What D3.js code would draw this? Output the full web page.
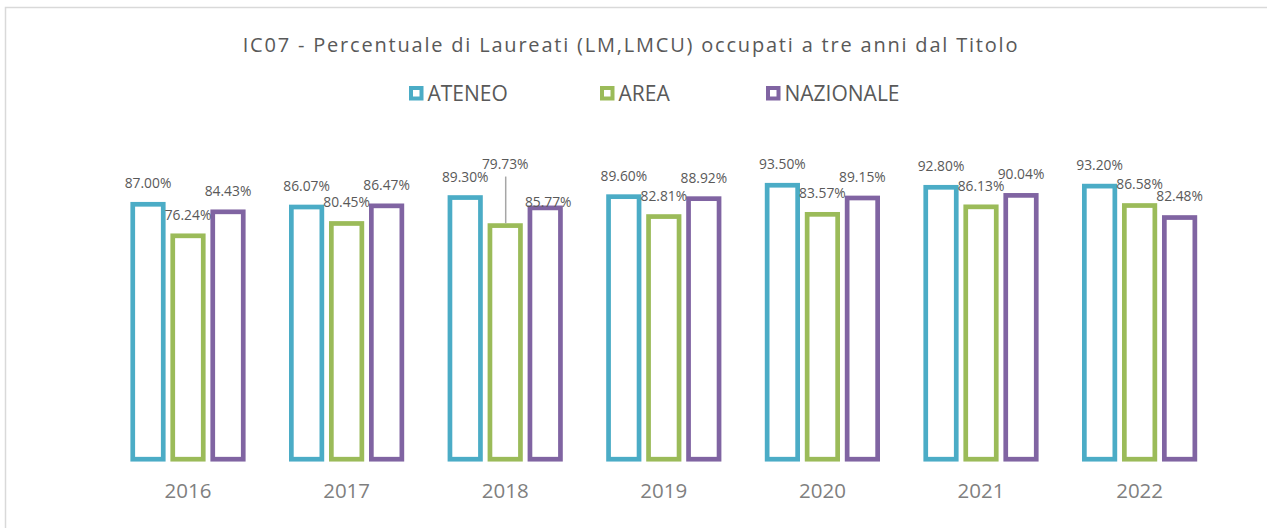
<!DOCTYPE html>
<html>
<head>
<meta charset="utf-8">
<script src="https://cdn.jsdelivr.net/npm/d3@7/dist/d3.min.js"></script>
<style>
  html, body { margin: 0; padding: 0; background: #ffffff; }
  svg { display: block; }
  text { font-family: "Open Sans", "Noto Sans", sans-serif; }
</style>
</head>
<body>
<svg id="chart" width="1267" height="528"></svg>
<script>
// Anni accademici (categorie)
const years = ["2016", "2017", "2018", "2019", "2020", "2021", "2022"];
// Serie
const seriesNames = ["ATENEO", "AREA", "NAZIONALE"];
const ateneo    = [87.00, 86.07, 89.30, 89.60, 93.50, 92.80, 93.20];
const area      = [76.24, 80.45, 79.73, 82.81, 83.57, 86.13, 86.58];
const nazionale = [84.43, 86.47, 85.77, 88.92, 89.15, 90.04, 82.48];
const seriesColors = ["#4BACC6", "#9BBB59", "#8064A2"];
const titleText = "IC07 - Percentuale di Laureati (LM,LMCU) occupati a tre anni dal Titolo";

const seriesValues = [ateneo, area, nazionale];
const rows = [];
years.forEach((yr, i) => {
  seriesNames.forEach((s, j) => {
    rows.push({ year: yr, series: s, value: seriesValues[j][i], color: seriesColors[j] });
  });
});

// Etichette spostate manualmente (come nel foglio di calcolo originale)
const labelNudge = {
  "AREA|2018": { dx: 0, dy: -41, leader: true },
  "NAZIONALE|2018": { dx: 3, dy: 15 }
};

const svg = d3.select("#chart");
const W = 1267, H = 528;

// Cornice dell'area grafico
svg.append("rect")
  .attr("x", 5.5).attr("y", 7.5)
  .attr("width", W + 20).attr("height", H + 20)
  .attr("fill", "#ffffff")
  .attr("stroke", "#d9d9d9")
  .attr("stroke-width", 1.5);

// Scale
const x0 = d3.scaleBand().domain(years).range([108.7, 1218.9]).paddingInner(0).paddingOuter(0);
const x1 = d3.scaleBand().domain(seriesNames).range([-60, 60]).paddingInner(0.2375).paddingOuter(0.2375 / 2);
const y = d3.scaleLinear().domain([0, 100]).range([459.2, 166.2]);

const strokeW = 4.7;

// Titolo
svg.append("text")
  .attr("x", 631).attr("y", 52)
  .attr("text-anchor", "middle")
  .attr("font-size", 20)
  .attr("letter-spacing", 1.8)
  .attr("fill", "#595959")
  .text(titleText);

// Legenda
const legendX = [409, 600, 766];
const legend = svg.append("g");
seriesNames.forEach((s, j) => {
  const g = legend.append("g").attr("transform", `translate(${legendX[j]},86)`);
  g.append("rect")
    .attr("x", 2).attr("y", 2).attr("width", 10.5).attr("height", 10.5)
    .attr("fill", "#ffffff")
    .attr("stroke", seriesColors[j]).attr("stroke-width", 4);
  g.append("text")
    .attr("x", 18.5).attr("y", 14.5)
    .attr("font-size", 21)
    .attr("fill", "#595959")
    .text(s);
});

// Barre (solo contorno)
const bars = svg.append("g");
bars.selectAll("rect")
  .data(rows)
  .join("rect")
  .attr("x", d => x0(d.year) + x0.bandwidth() / 2 + x1(d.series))
  .attr("y", d => y(d.value))
  .attr("width", x1.bandwidth())
  .attr("height", d => y(0) - y(d.value))
  .attr("fill", "#ffffff")
  .attr("stroke", d => d.color)
  .attr("stroke-width", strokeW);

// Etichette dei valori
const fmt = v => v.toFixed(2) + "%";
const labels = svg.append("g");
rows.forEach(d => {
  const cx = x0(d.year) + x0.bandwidth() / 2 + x1(d.series) + x1.bandwidth() / 2;
  const nudge = labelNudge[d.series + "|" + d.year] || { dx: 0, dy: 0 };
  const ly = y(d.value) - strokeW / 2 - 13.7 + nudge.dy;
  if (nudge.leader) {
    labels.append("line")
      .attr("x1", cx + 0.5).attr("x2", cx + 0.5)
      .attr("y1", ly + 8).attr("y2", y(d.value) - strokeW / 2)
      .attr("stroke", "#a6a6a6").attr("stroke-width", 1.5);
  }
  labels.append("text")
    .attr("x", cx + nudge.dx).attr("y", ly)
    .attr("text-anchor", "middle")
    .attr("font-size", 13.8)
    .attr("fill", "#595959")
    .text(fmt(d.value));
});

// Asse delle categorie (senza linea)
const xAxis = svg.append("g")
  .attr("transform", `translate(0,${y(0)})`)
  .call(d3.axisBottom(x0).tickSize(0).tickPadding(0));
xAxis.select(".domain").remove();
xAxis.selectAll("text")
  .attr("y", 39)
  .attr("dy", 0)
  .attr("font-size", 20.5)
  .attr("font-family", "\"Open Sans\", sans-serif")
  .attr("fill", "#7f7f7f");
</script>
</body>
</html>
